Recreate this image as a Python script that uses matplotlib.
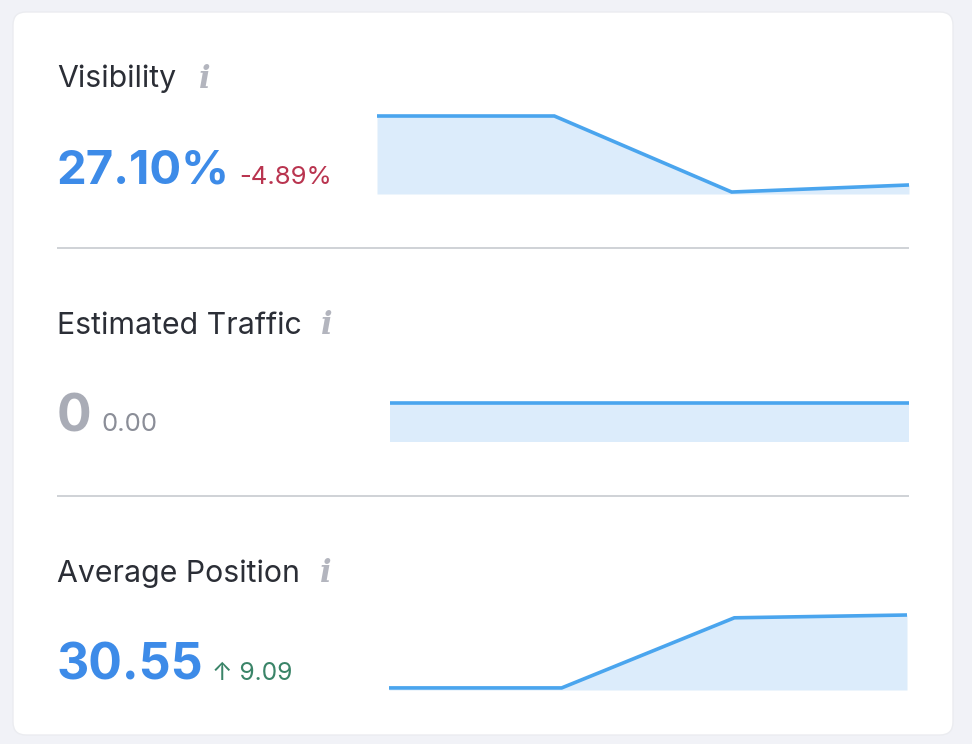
import matplotlib
matplotlib.use('Agg')
import matplotlib.pyplot as plt
from matplotlib.patches import FancyBboxPatch

W, H = 972, 744

titles = ["Visibility", "Estimated Traffic", "Average Position"]
main_values = ["27.10%", "0", "30.55"]
deltas = ["-4.89%", "0.00", "↑ 9.09"]

visibility = [31.99, 31.99, 26.6, 27.10]
traffic = [0, 0, 0, 0]
position = [21.46, 21.46, 30.2, 30.55]

BLUE = '#3d8be8'
LINE = '#4aa5ee'
FILL = '#dcecfb'
GREY = '#a9acb6'
RED = '#b9344f'
GREEN = '#3a8468'
DARK = '#2b2e36'

plt.rcParams['font.family'] = ['Inter', 'DejaVu Sans']

fig = plt.figure(figsize=(W / 100, H / 100), dpi=100, facecolor='#f1f2f7')

# page layer in pixel coordinates
bg = fig.add_axes([0, 0, 1, 1])
bg.set_xlim(0, W)
bg.set_ylim(H, 0)
bg.axis('off')

bg.add_patch(FancyBboxPatch((13, 12), 940, 723, boxstyle='round,pad=0,rounding_size=13',
                            fc='white', ec='#ebecf0', lw=1, zorder=1))

# title y, value baseline, icon x, delta x, value size, delta size per row
rows = [
    (76, 184, 205, 239, 34, 18.5, BLUE, RED),
    (323, 431, 327, 101, 37, 18.5, GREY, '#8b8e98'),
    (571, 680, 326, 212, 36, 17.7, BLUE, GREEN),
]
for i, (ty, by, ix, dx, vsize, dsize, col, dcol) in enumerate(rows):
    bg.text(57, ty + 3, titles[i], fontsize=21.8, color=DARK, va='center', ha='left', zorder=3)
    bg.text(ix, ty + 3, 'i', fontsize=22, color='#b3b5be', family='DejaVu Serif', style='italic',
            weight='bold', va='center', ha='center', zorder=3)
    bg.text(56.5, by, main_values[i], fontsize=vsize, color=col, weight='bold', va='baseline',
            ha='left', zorder=3)
    bg.text(dx, by, deltas[i], fontsize=dsize, color=dcol, va='baseline', ha='left', zorder=3)

for y in (248, 496):
    bg.plot([57, 909], [y, y], color='#cfd2d6', lw=1.4, solid_capstyle='butt', zorder=2)


def spark(box, values, ylim):
    # box is left, top, right, bottom in pixels
    left, top, right, bottom = box
    ax = fig.add_axes([left / W, 1 - bottom / H, (right - left) / W, (bottom - top) / H])
    ax.patch.set_alpha(0)
    xs = range(len(values))
    ax.fill_between(xs, values, ylim[0], color=FILL, lw=0)
    ax.plot(xs, values, color=LINE, lw=2.6, solid_joinstyle='miter', solid_capstyle='butt',
            clip_on=False)
    ax.set_xlim(0, len(values) - 1)
    ax.set_ylim(*ylim)
    ax.axis('off')


spark((377, 116, 909, 194), visibility, (26.46, 31.99))
spark((390, 403, 909, 442), traffic, (-1, 0))
spark((389, 615, 907, 690), position, (21.2, 30.55))

fig.savefig('out.png', dpi=100, facecolor=fig.get_facecolor())
